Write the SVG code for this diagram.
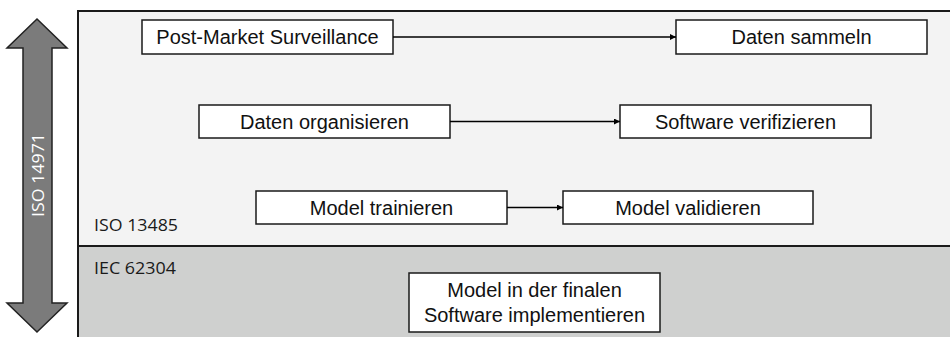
<svg xmlns="http://www.w3.org/2000/svg" width="950" height="337" viewBox="0 0 950 337">
  <defs>
    <marker id="tip" viewBox="0 0 10 10" refX="10" refY="5" markerWidth="6" markerHeight="6" markerUnits="userSpaceOnUse" orient="auto">
      <path d="M0,0 L10,5 L0,10 z" fill="#000"/>
    </marker>
  </defs>
  <style>
    .box { fill: #ffffff; stroke: #1a1a1a; stroke-width: 1.5; }
    .lbl { font-family: "Liberation Sans", Arial, sans-serif; font-size: 20px; fill: #111; text-anchor: middle; }
    .std { font-family: "Open Sans", "Liberation Sans", sans-serif; font-size: 16px; fill: #1a1a1a; }
    .edge { stroke: #000; stroke-width: 1.3; fill: none; marker-end: url(#tip); }
  </style>

  <rect width="950" height="337" fill="#ffffff"/>

  <!-- ISO 13485 / IEC 62304 regions -->
  <g id="iso13485">
    <rect x="78" y="11" width="880" height="235" fill="#f3f3f3"/>
    <text class="std" x="94" y="231" textLength="84" lengthAdjust="spacingAndGlyphs">ISO 13485</text>
  </g>
  <g id="iec62304">
    <rect x="78" y="246" width="880" height="100" fill="#cfd0cf"/>
    <text class="std" x="94" y="274" textLength="82" lengthAdjust="spacingAndGlyphs">IEC 62304</text>
  </g>
  <g id="frame" fill="none" stroke="#1a1a1a" stroke-width="2">
    <path d="M78,345 V11 H950"/>
    <path d="M78,246 H950"/>
  </g>

  <!-- ISO 14971 double arrow -->
  <g id="iso14971">
    <path d="M37,19 L67,48 L52,48 L52,303 L67,303 L37,332 L7,303 L23,303 L23,48 L7,48 Z" fill="#7b7b7b" stroke="#222" stroke-width="1.5" stroke-linejoin="miter"/>
    <text transform="translate(44,175) rotate(-90)" text-anchor="middle" font-family="'Open Sans', 'Liberation Sans', sans-serif" font-size="16" fill="#ffffff" textLength="84" lengthAdjust="spacingAndGlyphs">ISO 14971</text>
  </g>

  <!-- process steps -->
  <g id="pms">
    <rect class="box" x="142" y="20" width="251" height="34"/>
    <text class="lbl" x="267.5" y="44">Post-Market Surveillance</text>
  </g>
  <g id="collect">
    <rect class="box" x="676" y="20" width="251" height="34"/>
    <text class="lbl" x="801.5" y="44">Daten sammeln</text>
  </g>
  <g id="organize">
    <rect class="box" x="199" y="105" width="251" height="33"/>
    <text class="lbl" x="324.5" y="128.5">Daten organisieren</text>
  </g>
  <g id="verify">
    <rect class="box" x="620" y="105" width="251" height="33"/>
    <text class="lbl" x="745.5" y="128.5">Software verifizieren</text>
  </g>
  <g id="train">
    <rect class="box" x="256" y="191" width="251" height="33"/>
    <text class="lbl" x="381.5" y="214.5">Model trainieren</text>
  </g>
  <g id="validate">
    <rect class="box" x="563" y="191" width="250" height="33"/>
    <text class="lbl" x="688" y="214.5">Model validieren</text>
  </g>
  <g id="implement">
    <rect class="box" x="409" y="273" width="251" height="59"/>
    <text class="lbl" x="534.5" y="297">Model in der finalen</text>
    <text class="lbl" x="534.5" y="322">Software implementieren</text>
  </g>

  <!-- connectors -->
  <g id="connectors">
    <line class="edge" x1="393" y1="37" x2="676" y2="37"/>
    <line class="edge" x1="450" y1="121.5" x2="620" y2="121.5"/>
    <line class="edge" x1="507" y1="207.5" x2="563" y2="207.5"/>
  </g>
</svg>
